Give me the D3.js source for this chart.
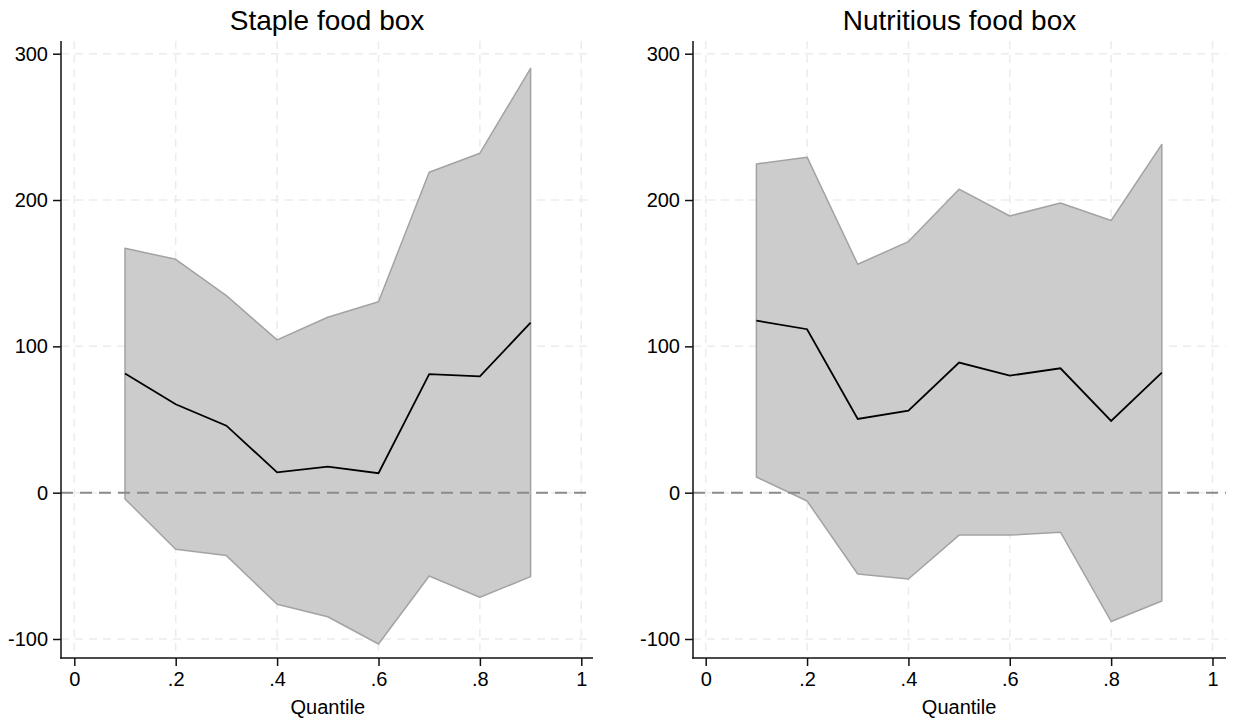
<!DOCTYPE html>
<html>
<head>
<meta charset="utf-8">
<script src="https://cdn.jsdelivr.net/npm/d3@7"></script>
<style>
  body { margin: 0; background: #fff; }
  svg { display: block; font-family: "Liberation Sans", Arial, Helvetica, sans-serif; }
</style>
</head>
<body>
<script>
// quantiles and estimates
const quantiles = [0.1, 0.2, 0.3, 0.4, 0.5, 0.6, 0.7, 0.8, 0.9];

const stapleEst   = [81.5, 60.4, 45.8, 13.9, 17.8, 13.3, 81, 79.5, 116.2];
const stapleUpper = [167, 159.5, 134.7, 104.4, 119.9, 130.5, 219, 232, 290];
const stapleLower = [-4.3, -38.7, -43, -76.3, -84.8, -103.4, -56.9, -71.5, -57.4];

const nutriEst   = [117.6, 111.7, 50.4, 56.1, 88.9, 80, 85, 49, 82];
const nutriUpper = [224.7, 229.3, 156.1, 171.6, 207.4, 189.1, 198, 186, 238];
const nutriLower = [10.7, -5.7, -55.6, -59, -29, -29, -27, -88, -74];

const xTicks = [0, 0.2, 0.4, 0.6, 0.8, 1];
const yTicks = [-100, 0, 100, 200, 300];

const titles = ["Staple food box", "Nutritious food box"];
const xTitle = "Quantile";

const W = 1234, H = 723;

const svg = d3.select('body')
    .append('svg')
    .attr('width', W)
    .attr('height', H);

// panel frames: plot region and where 0 and 1 sit on the x axis
const panels = [
    { left: 61, right: 593, x0: 74.3, x1: 581.3, est: stapleEst, lo: stapleLower, hi: stapleUpper, title: titles[0] },
    { left: 693, right: 1226, x0: 705.7, x1: 1212.5, est: nutriEst, lo: nutriLower, hi: nutriUpper, title: titles[1] }
];
const plotTop = 41, plotBottom = 658;

const y = d3.scaleLinear().domain([-100, 300]).range([639, 53.7]);

// stata style labels: plain hyphen, no leading zero
const fmtY = (d) => String(d);
const fmtX = (d) => d === 0 ? '0' : d === 1 ? '1' : d3.format('.1f')(d).replace(/^0/, '');

panels.forEach((p) => {
    const x = d3.scaleLinear().domain([0, 1]).range([p.x0, p.x1]);
    const g = svg.append('g');

    // grid
    g.selectAll('.vgrid')
        .data(xTicks)
        .join('line')
        .attr('x1', (d) => x(d)).attr('x2', (d) => x(d))
        .attr('y1', plotTop).attr('y2', plotBottom)
        .attr('stroke', '#ececec')
        .attr('stroke-width', 1.5)
        .attr('stroke-dasharray', '8,6');

    g.selectAll('.hgrid')
        .data(yTicks)
        .join('line')
        .attr('x1', p.left).attr('x2', p.right)
        .attr('y1', (d) => y(d)).attr('y2', (d) => y(d))
        .attr('stroke', '#ececec')
        .attr('stroke-width', 1.5)
        .attr('stroke-dasharray', '8,6');

    // confidence band
    const rows = quantiles.map((q, i) => ({ q: q, lo: p.lo[i], hi: p.hi[i], est: p.est[i] }));
    const area = d3.area()
        .x((d) => x(d.q))
        .y0((d) => y(d.lo))
        .y1((d) => y(d.hi));

    g.append('path')
        .datum(rows)
        .attr('d', (d) => area(d))
        .attr('fill', '#cccccc')
        .attr('stroke', '#a3a3a3')
        .attr('stroke-width', 1.5)
        .attr('stroke-linejoin', 'round');

    // zero reference line
    g.append('line')
        .attr('x1', p.left).attr('x2', p.right)
        .attr('y1', y(0)).attr('y2', y(0))
        .attr('stroke', '#8a8a8a')
        .attr('stroke-width', 2)
        .attr('stroke-dasharray', '12,7');

    // point estimates
    const line = d3.line()
        .x((d) => x(d.q))
        .y((d) => y(d.est));

    g.append('path')
        .datum(rows)
        .attr('fill', 'none')
        .attr('stroke', '#000')
        .attr('stroke-width', 1.8)
        .attr('d', line);

    // axes
    const yAxis = d3.axisLeft(y).tickValues(yTicks).tickSize(8).tickPadding(5).tickFormat(fmtY);
    const xAxis = d3.axisBottom(x).tickValues(xTicks).tickSize(8).tickPadding(6).tickFormat(fmtX);

    const ya = g.append('g')
        .attr('transform', `translate(${p.left},0)`)
        .call(yAxis);
    const xa = g.append('g')
        .attr('transform', `translate(0,${plotBottom})`)
        .call(xAxis);

    [ya, xa].forEach((a) => {
        a.select('.domain').remove();
        a.selectAll('line').attr('stroke', '#111').attr('stroke-width', 1.5);
        a.selectAll('text').attr('fill', '#000').style('font-size', '20px');
    });

    g.append('line')
        .attr('x1', p.left).attr('x2', p.left)
        .attr('y1', plotTop).attr('y2', plotBottom + 0.75)
        .attr('stroke', '#111').attr('stroke-width', 1.5);
    g.append('line')
        .attr('x1', p.left - 0.75).attr('x2', p.right)
        .attr('y1', plotBottom).attr('y2', plotBottom)
        .attr('stroke', '#111').attr('stroke-width', 1.5);

    // titles
    g.append('text')
        .attr('x', (p.left + p.right) / 2)
        .attr('y', 30)
        .attr('text-anchor', 'middle')
        .style('font-size', '28px')
        .text(p.title);

    g.append('text')
        .attr('x', x(0.5))
        .attr('y', 714)
        .attr('text-anchor', 'middle')
        .style('font-size', '20px')
        .text(xTitle);
});
</script>
</body>
</html>
